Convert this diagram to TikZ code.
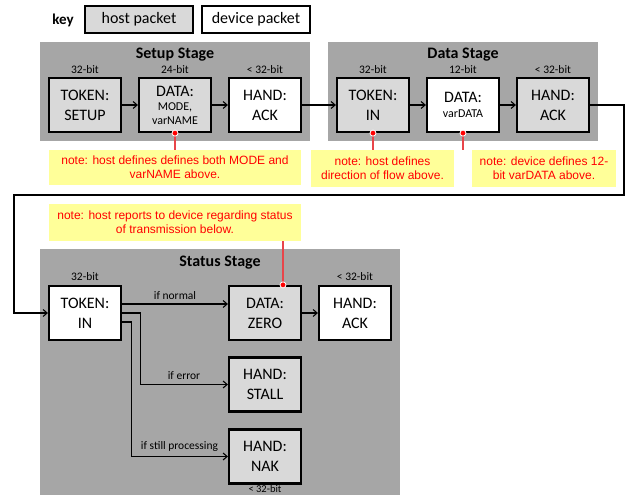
\documentclass[tikz,border=0pt]{standalone}
\usepackage{fontspec}
\setmainfont{Carlito}
\newfontfamily\notefont{Liberation Sans}
\usetikzlibrary{arrows.meta}
\definecolor{stagegray}{HTML}{A6A6A6}
\definecolor{hostgray}{HTML}{D9D9D9}
\definecolor{noteyellow}{HTML}{FFFF99}
\definecolor{pinred}{HTML}{E8454A}
\newcommand{\boxfont}{\fontsize{16}{20}\selectfont}
\newcommand{\tinyfont}{\fontsize{12}{14}\selectfont}
\newcommand{\bitfont}{\fontsize{11.5}{14}\selectfont}
\begin{document}
\begin{tikzpicture}[x=1pt, y=-1pt,
	packet/.style={draw, line width=2.2pt, minimum width=72pt, minimum height=54pt, align=center, font=\boxfont, inner sep=0pt},
	host/.style={packet, fill=hostgray},
	device/.style={packet, fill=white},
	keybox/.style={draw, line width=2pt, minimum width=108pt, minimum height=27pt, font=\boxfont, inner sep=0pt},
	stage/.style={fill=stagegray},
	title/.style={font=\fontsize{16}{18}\selectfont\bfseries},
	bits/.style={font=\bitfont},
	cond/.style={font=\bitfont, above=1pt},
	flow/.style={line width=1.1pt, -{Straight Barb[length=4pt,width=7pt]}},
	note/.style={fill=noteyellow, text=red, align=center, font=\notefont\fontsize{12}{14}\selectfont, inner sep=0pt},
	pin/.style={pinred, line width=1.1pt},
	dot/.style={circle, fill=red, draw=white, line width=0.8pt, inner sep=0pt, minimum size=6pt}]
	\useasboundingbox (0,0) rectangle (627,495);
	% key
	\node[font=\fontsize{15}{18}\selectfont\bfseries] (keylbl) at (63,20) {key};
	\node[keybox, fill=hostgray] (keyhost) at (139,19.5) {host packet};
	\node[keybox, fill=white] (keydev) at (256,19.5) {device packet};
	% stages
	\fill[stage] (40,42) rectangle (310,141);
	\fill[stage] (328,42) rectangle (598,141);
	\fill[stage] (40,249) rectangle (400,495);
	\node[title] (setuptitle) at (175,55) {Setup Stage};
	\node[title] (datatitle) at (463,55) {Data Stage};
	\node[title] (statustitle) at (220,263) {Status Stage};
	% setup stage
	\node[host] (stok) at (85,105) {TOKEN:\\SETUP};
	\node[host] (sdata) at (175,105) {DATA:\\[-6pt]\tinyfont MODE,\\[-6pt]\tinyfont varNAME};
	\node[device] (sack) at (265,105) {HAND:\\ACK};
	\node[bits] at (85,70) {32-bit};
	\node[bits] at (175,70) {24-bit};
	\node[bits] at (265,70) {< 32-bit};
	% data stage
	\node[host] (dtok) at (373,105) {TOKEN:\\IN};
	\node[device] (ddata) at (463,105) {DATA:\\[-5pt]\tinyfont varDATA};
	\node[host] (dack) at (553,105) {HAND:\\ACK};
	\node[bits] at (373,70) {32-bit};
	\node[bits] at (463,70) {12-bit};
	\node[bits] at (553,70) {< 32-bit};
	% status stage
	\node[device] (stok2) at (85,313) {TOKEN:\\IN};
	\node[host] (zero) at (265,313) {DATA:\\ZERO};
	\node[device] (sack2) at (355,313) {HAND:\\ACK};
	\node[host] (stall) at (265,384.5) {HAND:\\STALL};
	\node[host] (nak) at (265,456.5) {HAND:\\NAK};
	\node[bits] at (85,277) {32-bit};
	\node[bits] at (355,277) {< 32-bit};
	\node[font=\fontsize{10.5}{12}\selectfont, anchor=north, inner sep=0pt] at (265,485.5) {< 32-bit};
	% notes
	\node[note, minimum width=252pt, minimum height=35pt] (n1) at (175,167.5) {note: host defines defines both MODE and\\varNAME above.};
	\node[note, minimum width=143pt, minimum height=37pt] (n2) at (382.5,168.5) {note: host defines\\direction of flow above.};
	\node[note, minimum width=144pt, minimum height=37pt] (n3) at (544,168.5) {note: device defines 12-\\bit varDATA above.};
	\node[note, minimum width=252pt, minimum height=37pt] (n4) at (175,222.5) {note: host reports to device regarding status\\of transmission below.};
	% flow
	\draw[flow] (stok) -- (sdata);
	\draw[flow] (sdata) -- (sack);
	\draw[flow] (sack) -- (dtok);
	\draw[flow] (dtok) -- (ddata);
	\draw[flow] (ddata) -- (dack);
	\draw[flow] (dack.east) -| (624,195) -- (14,195) |- (stok2.west);
	\draw[flow] ([yshift=9pt]stok2.east) -- node[cond] {if normal} ([yshift=9pt]zero.west);
	\draw[flow] (stok2.east) -- ++(18,0) |- node[cond, pos=0.75] {if error} (stall.west);
	\draw[flow] ([yshift=-9pt]stok2.east) -- ++(9,0) |- node[cond, pos=0.75] {if still processing} (nak.west);
	\draw[flow] (zero) -- (sack2);
	% pins
	\draw[pin] (sdata.south) -- (sdata.south |- n1.north);
	\draw[pin] (dtok.south) -- (dtok.south |- n2.north);
	\draw[pin] (ddata.south) -- (ddata.south |- n3.north);
	\draw[pin] ([xshift=18pt]zero.north) -- ([xshift=18pt]zero.north |- n4.south);
	\node[dot] at (sdata.south) {};
	\node[dot] at (dtok.south) {};
	\node[dot] at (ddata.south) {};
	\node[dot] at ([xshift=18pt]zero.north) {};
\end{tikzpicture}
\end{document}
